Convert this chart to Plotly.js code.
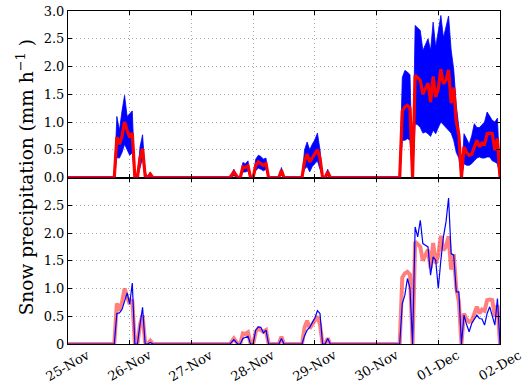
<!DOCTYPE html>
<html>
<head>
<meta charset="utf-8">
<script src="https://cdn.plot.ly/plotly-3.0.1.min.js"></script>
<style>html,body{margin:0;padding:0;background:#fff;}#chart{width:523px;height:390px;}</style>
</head>
<body>
<div id="chart"></div>
<script>
// Hours since 25-Nov 00:00
const hours = [0, 18, 19, 20, 21, 22, 23, 24, 25, 26, 27, 28, 29, 30, 31, 32, 33,
  63, 64.5, 66, 67, 68, 69, 70, 71, 72, 73, 74, 75, 76, 77, 78,
  82, 83, 84, 91, 92, 93, 94, 95, 96, 97, 98, 99, 100, 101, 102,
  129, 130, 131, 132, 133, 134, 135, 136, 137, 138, 139, 140, 141, 142, 143, 144, 145, 146, 147, 148,
  149, 150, 151, 152, 153, 154, 155, 156, 157, 158, 159, 160, 161, 162, 163, 164, 165, 166, 167, 168];
// Ensemble mean
const ensMean = [0, 0, 0.73, 0.6, 0.75, 1.0, 0.85, 0.72, 0.8, 0, 0, 0.35, 0.52, 0.03, 0, 0.06, 0,
  0, 0.1, 0, 0, 0.19, 0.18, 0.21, 0, 0, 0.22, 0.28, 0.25, 0.22, 0.25, 0,
  0, 0.13, 0, 0, 0.3, 0.42, 0.28, 0.35, 0.42, 0.5, 0.35, 0, 0, 0.1, 0,
  0, 1.2, 1.27, 1.3, 1.25, 0, 1.84, 1.8, 1.75, 1.5, 1.62, 1.7, 1.36, 1.82, 1.45, 1.6, 1.95, 1.69, 1.75, 1.94,
  1.34, 1.62, 1.0, 0.77, 0, 0.55, 0.45, 0.4, 0.42, 0.55, 0.67, 0.55, 0.62, 0.6, 0.79, 0.8, 0.79, 0.49, 0.7, 0];
// Ensemble minimum
const ensLow = [0, 0, 0.36, 0.35, 0.45, 0.6, 0.5, 0.4, 0.45, 0, 0, 0.2, 0.35, 0, 0, 0, 0,
  0, 0.03, 0, 0, 0.1, 0.1, 0.12, 0, 0, 0.12, 0.17, 0.15, 0.12, 0.15, 0,
  0, 0.05, 0, 0, 0.15, 0.2, 0.1, 0.2, 0.25, 0.3, 0.15, 0, 0, 0.03, 0,
  0, 0.67, 0.67, 0.7, 0.67, 0, 0.97, 0.95, 0.9, 0.8, 0.82, 0.79, 0.74, 0.85, 0.79, 0.9, 1.0, 0.95, 0.9, 0.85,
  0.8, 0.67, 0.45, 0.35, 0, 0.25, 0.22, 0.22, 0.25, 0.3, 0.35, 0.37, 0.35, 0.35, 0.37, 0.37, 0.3, 0.28, 0.25, 0];
// Ensemble maximum
const ensHigh = [0, 0, 1.1, 0.85, 1.2, 1.48, 1.1, 1.15, 1.2, 0, 0, 0.55, 0.77, 0.1, 0, 0.1, 0,
  0, 0.15, 0, 0, 0.27, 0.25, 0.3, 0, 0, 0.33, 0.4, 0.38, 0.33, 0.35, 0,
  0, 0.18, 0, 0, 0.5, 0.64, 0.5, 0.6, 0.68, 0.8, 0.5, 0, 0, 0.15, 0,
  0, 1.8, 1.93, 1.9, 1.85, 0, 2.74, 2.7, 2.65, 2.29, 2.4, 2.5, 2.29, 2.8, 2.35, 2.6, 2.92, 2.52, 2.7, 2.91,
  2.3, 1.95, 1.3, 0.9, 0, 0.79, 0.7, 0.6, 0.75, 0.97, 0.9, 0.9, 0.95, 1.0, 1.18, 1.1, 1.03, 1.0, 1.07, 0];
// Single run (thin blue)
const runVals = [0, 0, 0.55, 0.56, 0.62, 0.78, 0.92, 0.72, 1.1, 0, 0, 0.35, 0.66, 0, 0, 0.03, 0,
  0, 0.08, 0, 0, 0.1, 0.12, 0.14, 0, 0, 0.25, 0.31, 0.3, 0.2, 0.25, 0,
  0, 0.1, 0, 0, 0.15, 0.25, 0.3, 0.38, 0.47, 0.6, 0.55, 0, 0, 0.1, 0,
  0, 0.73, 0.88, 1.18, 1.0, 0, 2.11, 1.93, 2.23, 1.81, 1.78, 1.75, 1.24, 1.57, 1.51, 1.0, 1.51, 1.93, 2.2, 2.63,
  1.63, 1.6, 0.94, 0.94, 0, 0.52, 0.35, 0.22, 0.37, 0.45, 0.52, 0.46, 0.45, 0.34, 0.55, 0.67, 0.49, 0.34, 0.82, 0];
// Tick labels
const dayLabels = ['25-Nov', '26-Nov', '27-Nov', '28-Nov', '29-Nov', '30-Nov', '01-Dec', '02-Dec'];
const topTickVals = [0, 0.5, 1, 1.5, 2, 2.5, 3];
const topTickText = ['0.0', '0.5', '1.0', '1.5', '2.0', '2.5', '3.0'];
const botTickVals = [0, 0.5, 1, 1.5, 2, 2.5];
const botTickText = ['0', '0.5', '1.0', '1.5', '2.0', '2.5'];

const t0 = Date.UTC(2014, 10, 25);
const HOUR = 3600000, DAY = 86400000;
const xs = hours.map(h => t0 + h * HOUR);
const dayTicks = dayLabels.map((_, i) => t0 + i * DAY);

const FONT = 'DejaVu Serif, serif';

const traces = [
  {x: xs, y: ensLow, xaxis: 'x2', yaxis: 'y2', mode: 'lines', line: {color: '#0000ff', width: 0.8}, hoverinfo: 'skip'},
  {x: xs, y: ensHigh, xaxis: 'x2', yaxis: 'y2', mode: 'lines', fill: 'tonexty', fillcolor: '#0000ff', line: {color: '#0000ff', width: 0.8}, hoverinfo: 'skip'},
  {x: xs, y: ensMean, xaxis: 'x2', yaxis: 'y2', mode: 'lines', line: {color: '#ff0000', width: 3.2}},
  {x: xs, y: ensMean, xaxis: 'x', yaxis: 'y', mode: 'lines', line: {color: 'rgba(255,0,0,0.5)', width: 4}},
  {x: xs, y: runVals, xaxis: 'x', yaxis: 'y', mode: 'lines', line: {color: '#0000ff', width: 1.2}}
];

const xCommon = {
  type: 'date', range: [dayTicks[0], dayTicks[dayTicks.length - 1]],
  tickmode: 'array', tickvals: dayTicks, showticklabels: false,
  showgrid: true, gridcolor: '#a8a8a8', griddash: '1px,3px', gridwidth: 1,
  showline: true, mirror: 'ticks', linecolor: '#000', linewidth: 1,
  ticks: 'inside', ticklen: 4, tickcolor: '#000', zeroline: false
};
const yCommon = {
  range: [0, 3], tickmode: 'array',
  showgrid: true, gridcolor: '#a8a8a8', griddash: '1px,3px', gridwidth: 1,
  showline: true, mirror: 'ticks', linecolor: '#000', linewidth: 1,
  ticks: 'inside', ticklen: 4, tickcolor: '#000', zeroline: false,
  tickfont: {family: FONT, size: 13, color: '#000'}
};

const annotations = dayLabels.map((lab, i) => ({
  x: dayTicks[i], xref: 'x', y: -0.066, yref: 'paper', text: lab, showarrow: false,
  textangle: -30, xanchor: 'center', yanchor: 'middle',
  font: {family: FONT, size: 13, color: '#000'}
}));
annotations.push({
  x: -0.1, xref: 'paper', y: 0.5, yref: 'paper', xanchor: 'center', yanchor: 'middle',
  text: 'Snow precipitation (mm h<sup>−1</sup> )', textangle: -90, showarrow: false,
  font: {family: FONT, size: 18.5, color: '#000'}
});

const layout = {
  width: 523, height: 390,
  margin: {l: 68, r: 23, t: 11, b: 46, pad: 0},
  paper_bgcolor: '#fff', plot_bgcolor: '#fff',
  showlegend: false,
  font: {family: FONT, size: 13, color: '#000'},
  xaxis: Object.assign({}, xCommon, {anchor: 'y', domain: [0, 1]}),
  yaxis: Object.assign({}, yCommon, {anchor: 'x', domain: [0, 0.5], tickvals: botTickVals, ticktext: botTickText}),
  xaxis2: Object.assign({}, xCommon, {anchor: 'y2', domain: [0, 1]}),
  yaxis2: Object.assign({}, yCommon, {anchor: 'x2', domain: [0.5, 1], tickvals: topTickVals, ticktext: topTickText}),
  annotations: annotations
};

Plotly.newPlot('chart', traces, layout, {staticPlot: true, displayModeBar: false});
</script>
</body>
</html>
